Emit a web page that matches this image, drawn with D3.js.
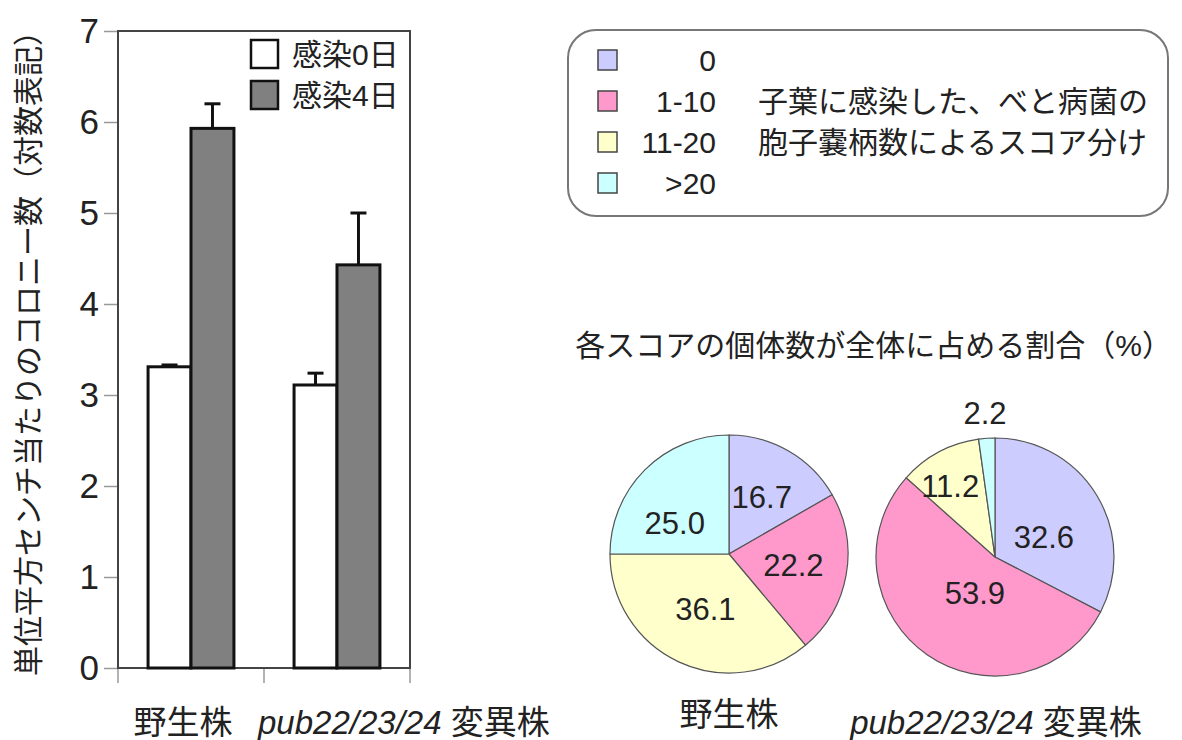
<!DOCTYPE html>
<html>
<head>
<meta charset="utf-8">
<script src="https://cdn.jsdelivr.net/npm/d3@7"></script>
<style>
  body { margin: 0; background: #fff; }
  text { font-family: "Liberation Sans", "Noto Sans CJK JP", sans-serif; fill: #222; }
</style>
</head>
<body>
<svg id="chart" width="1182" height="740"></svg>
<script>
// bar chart data (log colonies per cm2)
const groups = ["野生株", "pub22/23/24 変異株"];
const days = ["感染0日", "感染4日"];
const day0 = [3.31, 3.11];
const day4 = [5.93, 4.43];
const day0Err = [0.02, 0.13];
const day4Err = [0.27, 0.57];
const yTicks = [0, 1, 2, 3, 4, 5, 6, 7];

// pie data (% of plants in each score)
const scores = ["0", "1-10", "11-20", ">20"];
const scoreColors = ["#ccccff", "#ff99cc", "#ffffcc", "#ccffff"];
const wildPct = [16.7, 22.2, 36.1, 25.0];
const mutantPct = [32.6, 53.9, 11.2, 2.2];

const svg = d3.select("#chart");
const font = 30;
const catFont = 33;

// ---------- bar chart ----------
const plot = {left: 118, right: 410, top: 31, bottom: 668};

const y = d3.scaleLinear().domain([0, 7]).range([plot.bottom, plot.top]);
const x0 = d3.scaleBand().domain(groups).range([plot.left, plot.right]);
const x1 = d3.scaleBand().domain(days).range([0, x0.bandwidth()])
    .paddingInner(0).paddingOuter(0.7);

const fills = ["#ffffff", "#808080"];

const yAxis = svg.append("g")
    .attr("transform", "translate(" + plot.left + ",0)")
    .call(d3.axisLeft(y).tickValues(yTicks).tickFormat(d3.format("d")).tickSize(14).tickPadding(5));
yAxis.select(".domain").remove();
yAxis.selectAll(".tick line").attr("stroke", "#999").attr("stroke-width", 1.5);
yAxis.selectAll(".tick text")
    .style("font-size", "35px")
    .style("font-family", "Liberation Sans, sans-serif")
    .attr("fill", "#222");

// x axis ticks below the frame
const xEdges = [plot.left].concat(groups.map(g => x0(g) + x0.bandwidth()));
svg.append("g").selectAll("line")
    .data(xEdges)
    .join("line")
    .attr("x1", d => d).attr("x2", d => d)
    .attr("y1", plot.bottom).attr("y2", plot.bottom + 15)
    .attr("stroke", "#999").attr("stroke-width", 1.5);

// frame
svg.append("rect")
    .attr("x", plot.left).attr("y", plot.top)
    .attr("width", plot.right - plot.left).attr("height", plot.bottom - plot.top)
    .attr("fill", "none").attr("stroke", "#444").attr("stroke-width", 2);

const barData = [];
groups.forEach(function(g, i) {
    barData.push({group: g, day: days[0], value: day0[i], err: day0Err[i], fill: fills[0]});
    barData.push({group: g, day: days[1], value: day4[i], err: day4Err[i], fill: fills[1]});
});
const cx = d => x0(d.group) + x1(d.day) + x1.bandwidth() / 2;

const bars = svg.append("g");
// error bars (upper half only)
bars.selectAll("line.err")
    .data(barData)
    .join("line")
    .attr("class", "err")
    .attr("x1", cx).attr("x2", cx)
    .attr("y1", d => y(d.value))
    .attr("y2", d => y(d.value + d.err))
    .attr("stroke", "#111").attr("stroke-width", 3);
bars.selectAll("line.cap")
    .data(barData)
    .join("line")
    .attr("class", "cap")
    .attr("x1", d => cx(d) - 8)
    .attr("x2", d => cx(d) + 8)
    .attr("y1", d => y(d.value + d.err))
    .attr("y2", d => y(d.value + d.err))
    .attr("stroke", "#111").attr("stroke-width", 3);
bars.selectAll("rect")
    .data(barData)
    .join("rect")
    .attr("x", d => x0(d.group) + x1(d.day))
    .attr("y", d => y(d.value))
    .attr("width", x1.bandwidth())
    .attr("height", d => y(0) - y(d.value))
    .attr("fill", d => d.fill)
    .attr("stroke", "#111").attr("stroke-width", 3);

// legend inside bar chart
const barLegend = svg.append("g").attr("transform", "translate(251,40)");
days.forEach(function(d, i) {
    barLegend.append("rect")
        .attr("x", 0).attr("y", i * 41)
        .attr("width", 27).attr("height", 28)
        .attr("fill", fills[i]).attr("stroke", "#111").attr("stroke-width", 2.5);
    barLegend.append("text")
        .attr("x", 41).attr("y", i * 41 + 14)
        .attr("dominant-baseline", "central")
        .style("font-size", font + "px")
        .text(d);
});

// category labels
const catY = 722;
svg.append("text")
    .attr("x", x0(groups[0]) + x0.bandwidth() / 2 - 8).attr("y", catY)
    .attr("text-anchor", "middle").attr("dominant-baseline", "central")
    .style("font-size", catFont + "px")
    .text(groups[0]);
function mutantLabel(sel, label) {
    const parts = label.split(" ");
    sel.append("tspan").style("font-style", "italic").text(parts[0]);
    sel.append("tspan").text(" " + parts[1]);
}
svg.append("text")
    .attr("x", x0(groups[1]) - 6).attr("y", catY)
    .attr("dominant-baseline", "central")
    .style("font-size", catFont + "px")
    .call(mutantLabel, groups[1]);

// y axis title
svg.append("text")
    .attr("transform", "translate(28,346) rotate(-90)")
    .attr("text-anchor", "middle").attr("dominant-baseline", "central")
    .style("font-size", font + "px")
    .text("単位平方センチ当たりのコロニー数（対数表記）");

// ---------- score legend ----------
const leg = svg.append("g");
leg.append("rect")
    .attr("x", 568).attr("y", 30).attr("width", 600).attr("height", 186)
    .attr("rx", 28).attr("ry", 28)
    .attr("fill", "#fff").attr("stroke", "#777").attr("stroke-width", 2);
const rowY = d3.scalePoint().domain(scores).range([60, 183]);
leg.selectAll("rect.sw")
    .data(scores)
    .join("rect")
    .attr("class", "sw")
    .attr("x", 598).attr("y", d => rowY(d) - 10)
    .attr("width", 19).attr("height", 20)
    .attr("fill", (d, i) => scoreColors[i])
    .attr("stroke", "#444").attr("stroke-width", 1.5);
leg.selectAll("text.lab")
    .data(scores)
    .join("text")
    .attr("class", "lab")
    .attr("x", 716).attr("y", d => rowY(d))
    .attr("text-anchor", "end").attr("dominant-baseline", "central")
    .style("font-size", font + "px")
    .text(d => d);
leg.append("text")
    .attr("x", 758).attr("y", rowY(scores[1]))
    .attr("dominant-baseline", "central")
    .style("font-size", font + "px")
    .text("子葉に感染した、べと病菌の");
leg.append("text")
    .attr("x", 758).attr("y", rowY(scores[2]))
    .attr("dominant-baseline", "central")
    .style("font-size", font + "px")
    .text("胞子嚢柄数によるスコア分け");

// ---------- pies ----------
svg.append("text")
    .attr("x", 1172).attr("y", 345)
    .attr("text-anchor", "end").attr("dominant-baseline", "central")
    .style("font-size", font + "px")
    .text("各スコアの個体数が全体に占める割合（%）");

const radius = 119;
const pie = d3.pie().sort(null).value(d => d);
const arc = d3.arc().innerRadius(0).outerRadius(radius);
const labelArc = d3.arc().innerRadius(radius * 0.55).outerRadius(radius * 0.55);
const outerLabelArc = d3.arc().innerRadius(radius * 1.21).outerRadius(radius * 1.21);

// small label shifts, like the spreadsheet's "best fit" placement
const wildNudge = [[0, 0], [0, 0], [4, -4], [-8, 16]];
const mutantNudge = [[-7, 14], [17, -17], [-14, -13], [0, 0]];

function drawPie(values, nudge, cx, cy) {
    const g = svg.append("g").attr("transform", "translate(" + cx + "," + cy + ")");
    const arcs = pie(values);
    g.selectAll("path")
        .data(arcs)
        .join("path")
        .attr("d", arc)
        .attr("fill", (d, i) => scoreColors[i])
        .attr("stroke", "#555").attr("stroke-width", 1.2);
    g.selectAll("text")
        .data(arcs)
        .join("text")
        .attr("transform", function(d, i) {
            const c = (d.data < 5 ? outerLabelArc : labelArc).centroid(d);
            return "translate(" + (c[0] + nudge[i][0]) + "," + (c[1] + nudge[i][1]) + ")";
        })
        .attr("text-anchor", "middle").attr("dominant-baseline", "central")
        .style("font-size", "31px")
        .text(d => d.data.toFixed(1));
}
drawPie(wildPct, wildNudge, 729, 554);
drawPie(mutantPct, mutantNudge, 995, 557);

svg.append("text")
    .attr("x", 729).attr("y", 714)
    .attr("text-anchor", "middle").attr("dominant-baseline", "central")
    .style("font-size", catFont + "px")
    .text(groups[0]);
svg.append("text")
    .attr("x", 996).attr("y", 722)
    .attr("text-anchor", "middle").attr("dominant-baseline", "central")
    .style("font-size", catFont + "px")
    .call(mutantLabel, groups[1]);
</script>
</body>
</html>
